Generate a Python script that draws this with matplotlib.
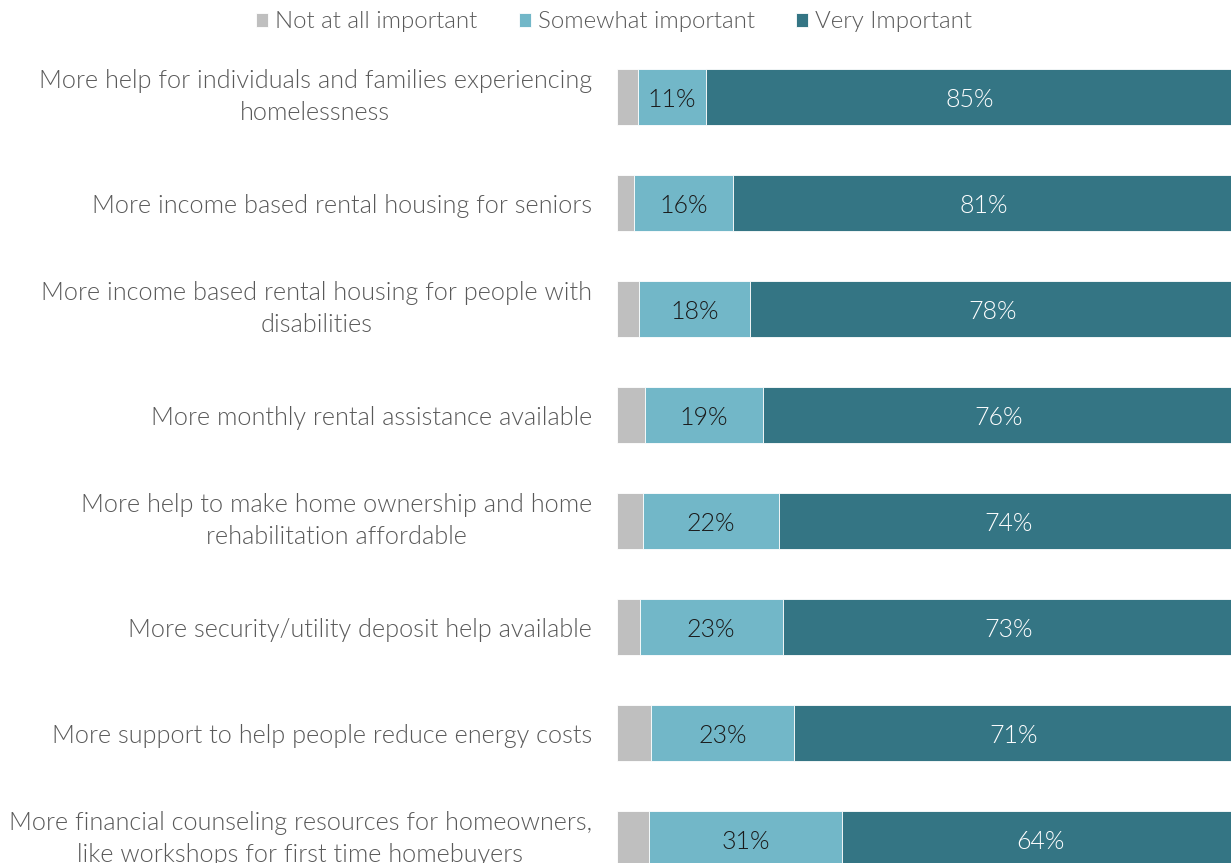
import numpy as np
import matplotlib
matplotlib.use("Agg")
import matplotlib.pyplot as plt
from matplotlib import font_manager as fm

# Lato Light, picked by file so the weight is exact
light_path = None
for f in fm.fontManager.ttflist:
    if f.fname.endswith("Lato-Light.ttf"):
        light_path = f.fname
        break


def lato(size):
    if light_path:
        return fm.FontProperties(fname=light_path, size=size)
    return fm.FontProperties(family="Lato", weight="light", size=size)


# Survey data (percent)
categories = [
    "More help for individuals and families experiencing\nhomelessness",
    "More income based rental housing for seniors",
    "More income based rental housing for people with\ndisabilities",
    "More monthly rental assistance available",
    "More help to make home ownership and home\nrehabilitation affordable",
    "More security/utility deposit help available",
    "More support to help people reduce energy costs",
    "More financial counseling resources for homeowners,\nlike workshops for first time homebuyers",
]
not_important = [3.4, 2.7, 3.5, 4.5, 4.2, 3.7, 5.5, 5.2]
somewhat = [11, 16, 18, 19, 22, 23, 23, 31]
very = [85, 81, 78, 76, 74, 73, 71, 64]

series_names = ["Not at all important", "Somewhat important", "Very Important"]
colors = ["#BFBFBF", "#72B7C8", "#347584"]
label_colors = [None, "#1A1A1A", "white"]

fig = plt.figure(figsize=(12.31, 8.63), dpi=100)
ax = fig.add_axes([617 / 1231, 0, 1 - 617 / 1231, 1])

y = np.arange(len(categories))
left = np.zeros(len(categories))
for name, vals, col, lc in zip(series_names, [not_important, somewhat, very], colors, label_colors):
    vals = np.array(vals, dtype=float)
    ax.barh(y, vals, left=left, height=0.52, color=col, label=name,
            edgecolor="white", linewidth=0.6)
    if lc is not None:
        for yi, l, v in zip(y, left, vals):
            ax.text(l + v / 2, yi, f"{int(v)}%", ha="center", va="center_baseline",
                    fontproperties=lato(18), color=lc)
    left += vals

# the 100% end runs just past the right edge of the picture
ax.set_xlim(0, 99)
ax.set_ylim((863 - 97) / 106, -97 / 106)
ax.set_yticks(y)
ax.set_yticklabels(categories, color="#595959", linespacing=1.4)
for lab in ax.get_yticklabels():
    lab.set_fontproperties(lato(18.2))
    lab.set_multialignment("center")
    if "\n" in lab.get_text():
        lab.set_verticalalignment("center")
ax.tick_params(axis="y", length=0, pad=18)
ax.set_xticks([])
for s in ax.spines.values():
    s.set_visible(False)

fig.legend(loc="center", bbox_to_anchor=(614 / 1231, 1 - 22 / 863), ncol=3,
           frameon=False, prop=lato(17.3), labelcolor="#595959", handlelength=0.5,
           handleheight=0.5, handletextpad=0.3, columnspacing=1.7,
           borderaxespad=0)

fig.savefig("out.png", dpi=100)
